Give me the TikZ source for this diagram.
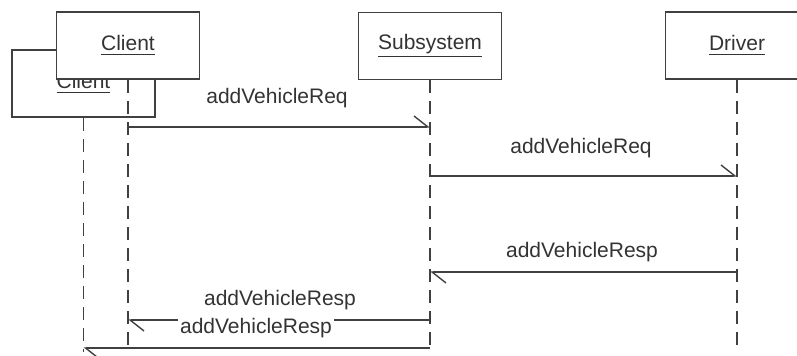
\documentclass[tikz,border=0pt]{standalone}
\usepackage{fontspec}
\setmainfont{Liberation Sans}
\usetikzlibrary{arrows.meta}

\begin{document}
\begin{tikzpicture}[x=0.5pt, y=-0.5pt, line width=0.8pt, black!75,
    obj/.style={draw, fill=white, minimum width=71.5pt, minimum height=33.5pt,
      inner sep=0pt, text=black!80, font=\fontsize{10.5}{12}\selectfont},
    life/.style={dash pattern=on 6.5pt off 4pt},
    msg/.style={line width=0.7pt, -{Straight Barb[left, length=7pt, width=11pt]}},
    lbl/.style={fill=white, inner sep=1pt, text=black!80,
      font=\fontsize{10.5}{12}\selectfont}]
   \useasboundingbox (0,0) rectangle (797,356);

   % objects (the second client sits behind the first one)
   \node[obj] (client2) at (83.5,83.5) {\underline{Client}};
   \node[obj] (client) at (128,45.5) {\underline{Client}};
   \node[obj] (sub) at (430,46) {\underline{Subsystem}};
   \node[obj] (drv) at (737,45.5) {\underline{Driver}};

   % lifelines
   \coordinate (client2end) at (client2.south |- 0,352);
   \coordinate (clientend) at (client.south |- 0,352);
   \coordinate (subend) at (sub.south |- 0,352);
   \coordinate (drvend) at (drv.south |- 0,352);
   \draw[life] (client2.south) -- (client2end);
   \draw[life] (client.south) -- (clientend);
   \draw[life] (sub.south) -- (subend);
   \draw[life] (drv.south) -- (drvend);

   % messages
   \coordinate (c1) at (client.south |- 0,127);
   \coordinate (s1) at (sub.south |- 0,127);
   \coordinate (s2) at (sub.south |- 0,176);
   \coordinate (d2) at (drv.south |- 0,176);
   \coordinate (d3) at (drv.south |- 0,272);
   \coordinate (s3) at (sub.south |- 0,272);
   \coordinate (s4) at (sub.south |- 0,320);
   \coordinate (c4) at (client.south |- 0,320);
   \coordinate (s5) at (sub.south |- 0,348);
   \coordinate (k5) at (client2.south |- 0,348);

   \draw[msg] (c1) -- (s1);
   \node[lbl] (req1) at (277,98) {addVehicleReq};
   \draw[msg] (s2) -- (d2);
   \node[lbl] (req2) at (581,148) {addVehicleReq};
   \draw[msg] (d3) -- (s3);
   \node[lbl] (resp3) at (582,252) {addVehicleResp};
   \draw[msg] (s4) -- (c4);
   \node[lbl] (resp4) at (280,300) {addVehicleResp};
   \draw[msg] (s5) -- (k5);
   \node[lbl] (resp5) at (256,328) {addVehicleResp};
  \end{tikzpicture}
\end{document}
